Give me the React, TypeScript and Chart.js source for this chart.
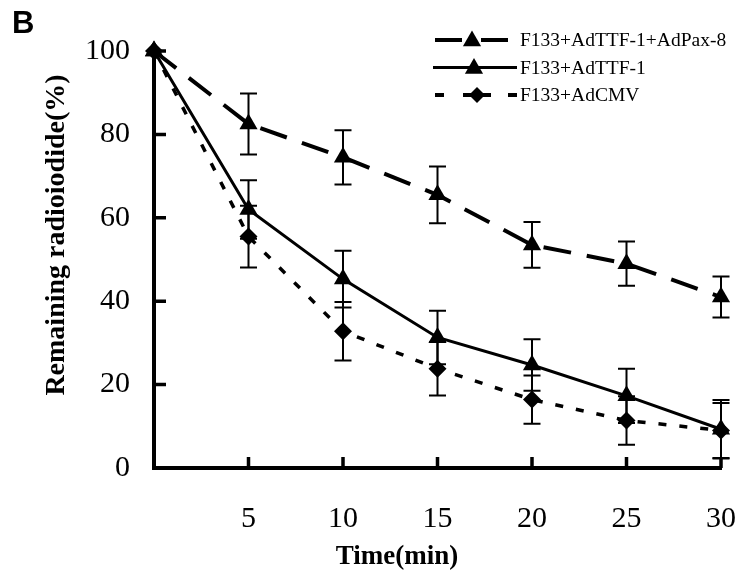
import React, { useEffect, useRef } from 'react';
import { Chart, registerables } from 'chart.js';

Chart.register(...registerables);

// Sampling times (min) and axis ticks
const times = [0, 5, 10, 15, 20, 25, 30];
const xTickValues = [5, 10, 15, 20, 25, 30];
const yTickValues = [0, 20, 40, 60, 80, 100];

// Series names
const seriesNames = ['F133+AdTTF-1+AdPax-8', 'F133+AdTTF-1', 'F133+AdCMV'];

// Remaining radioiodide (%) — mean and error
const pax8Mean = [100, 82.5, 74.5, 65.5, 53.5, 49, 41];
const pax8Err = [0, 7.3, 6.5, 6.8, 5.5, 5.3, 4.9];
const ttf1Mean = [100, 62, 45.3, 31.3, 24.7, 17.3, 9.3];
const ttf1Err = [0, 7, 6.8, 6.4, 6.2, 6.5, 7];
const cmvMean = [100, 55.5, 32.8, 23.8, 16.4, 11.4, 9];
const cmvErr = [0, 7.4, 7, 6.4, 5.8, 5.8, 6.6];

const SERIF = '"Liberation Serif", "Times New Roman", serif';
const INK = '#000';

const errorsByDataset = [pax8Err, ttf1Err, cmvErr];

function triangle(ctx: CanvasRenderingContext2D, x: number, y: number, r: number) {
  ctx.beginPath();
  for (let i = 0; i < 3; i++) {
    const a = (i * 2 * Math.PI) / 3;
    const px = x + Math.sin(a) * r;
    const py = y - Math.cos(a) * r;
    if (i === 0) ctx.moveTo(px, py);
    else ctx.lineTo(px, py);
  }
  ctx.closePath();
  ctx.fill();
}

function diamond(ctx: CanvasRenderingContext2D, x: number, y: number, r: number) {
  ctx.beginPath();
  ctx.moveTo(x - r, y);
  ctx.lineTo(x, y - r);
  ctx.lineTo(x + r, y);
  ctx.lineTo(x, y + r);
  ctx.closePath();
  ctx.fill();
}

const errorBarPlugin = {
  id: 'errorBars',
  afterDatasetsDraw(chart: any) {
    const { ctx } = chart;
    const xs = chart.scales.x;
    const ys = chart.scales.y;
    ctx.save();
    ctx.strokeStyle = INK;
    ctx.lineWidth = 2;
    ctx.setLineDash([]);
    chart.data.datasets.forEach((ds: any, di: number) => {
      const errs = errorsByDataset[di];
      ds.data.forEach((pt: any, i: number) => {
        const e = errs[i];
        if (!e) return;
        const px = xs.getPixelForValue(pt.x);
        const top = ys.getPixelForValue(pt.y + e);
        const bot = ys.getPixelForValue(pt.y - e);
        const cap = 8.5;
        ctx.beginPath();
        ctx.moveTo(px, top);
        ctx.lineTo(px, bot);
        ctx.moveTo(px - cap, top);
        ctx.lineTo(px + cap, top);
        ctx.moveTo(px - cap, bot);
        ctx.lineTo(px + cap, bot);
        ctx.stroke();
      });
    });
    ctx.restore();
  },
};

const decorPlugin = {
  id: 'decor',
  afterDraw(chart: any) {
    const { ctx, chartArea } = chart;
    const xs = chart.scales.x;
    const ys = chart.scales.y;
    ctx.save();
    ctx.strokeStyle = INK;
    ctx.fillStyle = INK;
    ctx.setLineDash([]);

    // inward tick marks
    ctx.lineWidth = 3.5;
    ctx.beginPath();
    yTickValues.forEach((v) => {
      const py = ys.getPixelForValue(v);
      ctx.moveTo(chartArea.left, py);
      ctx.lineTo(chartArea.left + 12, py);
    });
    xTickValues.forEach((v) => {
      const px = xs.getPixelForValue(v);
      ctx.moveTo(px, chartArea.bottom);
      ctx.lineTo(px, chartArea.bottom - 11);
    });
    ctx.stroke();

    // axis titles
    ctx.textAlign = 'center';
    ctx.textBaseline = 'middle';
    ctx.font = `bold 28px ${SERIF}`;
    ctx.save();
    ctx.translate(57, 235);
    ctx.rotate(-Math.PI / 2);
    ctx.fillText('Remaining radioiodide(%)', 0, 0);
    ctx.restore();
    ctx.font = `bold 27px ${SERIF}`;
    ctx.fillText('Time(min)', 397, 557);

    // panel letter
    ctx.textAlign = 'left';
    ctx.textBaseline = 'alphabetic';
    ctx.font = 'bold 31px "Liberation Sans", Arial, sans-serif';
    ctx.fillText('B', 12, 33);

    // legend
    const rows = [40, 67.5, 95];
    ctx.lineCap = 'butt';
    // row 1: long dashes with triangle
    ctx.lineWidth = 4;
    ctx.beginPath();
    ctx.moveTo(435, rows[0]);
    ctx.lineTo(462, rows[0]);
    ctx.moveTo(481, rows[0]);
    ctx.lineTo(508, rows[0]);
    ctx.stroke();
    triangle(ctx, 472, rows[0] + 1, 10.5);
    // row 2: solid with triangle
    ctx.lineWidth = 3;
    ctx.beginPath();
    ctx.moveTo(433, rows[1]);
    ctx.lineTo(517, rows[1]);
    ctx.stroke();
    triangle(ctx, 474, rows[1] + 1, 10.5);
    // row 3: short dashes with diamond
    ctx.lineWidth = 4;
    ctx.beginPath();
    ctx.moveTo(435, rows[2]);
    ctx.lineTo(444, rows[2]);
    ctx.moveTo(463, rows[2]);
    ctx.lineTo(491, rows[2]);
    ctx.moveTo(508, rows[2]);
    ctx.lineTo(517, rows[2]);
    ctx.stroke();
    diamond(ctx, 477, rows[2], 8);

    ctx.font = `19.5px ${SERIF}`;
    ctx.textBaseline = 'middle';
    ctx.textAlign = 'left';
    seriesNames.forEach((name, i) => {
      ctx.fillText(name, 520, rows[i] + 1);
    });
    ctx.restore();
  },
};

function toPoints(values: number[]) {
  return times.map((t, i) => ({ x: t, y: values[i] }));
}

function dropScalePadding(s: any) {
  s.paddingLeft = 0;
  s.paddingRight = 0;
  s.paddingTop = 0;
  s.paddingBottom = 0;
}

export default function App() {
  const canvasRef = useRef<HTMLCanvasElement | null>(null);

  useEffect(() => {
    const canvas = canvasRef.current;
    if (!canvas) return;
    const tickFont = { family: SERIF, size: 30 };
    const chart = new Chart(canvas, {
      type: 'line',
      data: {
        datasets: [
          {
            label: seriesNames[0],
            data: toPoints(pax8Mean),
            borderColor: INK,
            backgroundColor: INK,
            borderWidth: 4,
            borderDash: [28, 16],
            pointStyle: 'triangle',
            pointRadius: 10.5,
            pointBorderWidth: 0,
            pointBackgroundColor: INK,
            tension: 0,
            clip: false,
          },
          {
            label: seriesNames[1],
            data: toPoints(ttf1Mean),
            borderColor: INK,
            backgroundColor: INK,
            borderWidth: 3,
            pointStyle: 'triangle',
            pointRadius: 10.5,
            pointBorderWidth: 0,
            pointBackgroundColor: INK,
            tension: 0,
            clip: false,
          },
          {
            label: seriesNames[2],
            data: toPoints(cmvMean),
            borderColor: INK,
            backgroundColor: INK,
            borderWidth: 3.5,
            borderDash: [8, 13],
            pointStyle: 'rectRot',
            pointRadius: 9,
            pointBorderWidth: 0,
            pointBackgroundColor: INK,
            tension: 0,
            clip: false,
          },
        ],
      },
      options: {
        animation: false,
        responsive: false,
        devicePixelRatio: 1,
        layout: { padding: { top: 51, right: 19, left: 0, bottom: 0 } },
        plugins: {
          legend: { display: false },
          tooltip: { enabled: false },
        },
        scales: {
          x: {
            type: 'linear',
            min: 0,
            max: 30,
            afterBuildTicks: (s: any) => {
              s.ticks = xTickValues.map((v) => ({ value: v }));
            },
            afterFit: (s: any) => {
              s.height = 112;
              dropScalePadding(s);
            },
            grid: { display: false, drawTicks: false },
            border: { display: true, width: 4, color: INK },
            ticks: {
              font: tickFont,
              color: INK,
              padding: 33,
              maxRotation: 0,
              autoSkip: false,
            },
          },
          y: {
            type: 'linear',
            min: 0,
            max: 100,
            afterBuildTicks: (s: any) => {
              s.ticks = yTickValues.map((v) => ({ value: v }));
            },
            afterFit: (s: any) => {
              s.width = 154;
              dropScalePadding(s);
            },
            grid: { display: false, drawTicks: false },
            border: { display: true, width: 4, color: INK },
            ticks: {
              font: tickFont,
              color: INK,
              padding: 24,
              autoSkip: false,
            },
          },
        },
      },
      plugins: [errorBarPlugin, decorPlugin],
    } as any);
    return () => chart.destroy();
  }, []);

  return (
    <div style={{ position: 'absolute', left: 0, top: 0, width: 740, height: 580, background: '#fff' }}>
      <canvas ref={canvasRef} width={740} height={580} style={{ display: 'block' }} />
    </div>
  );
}
